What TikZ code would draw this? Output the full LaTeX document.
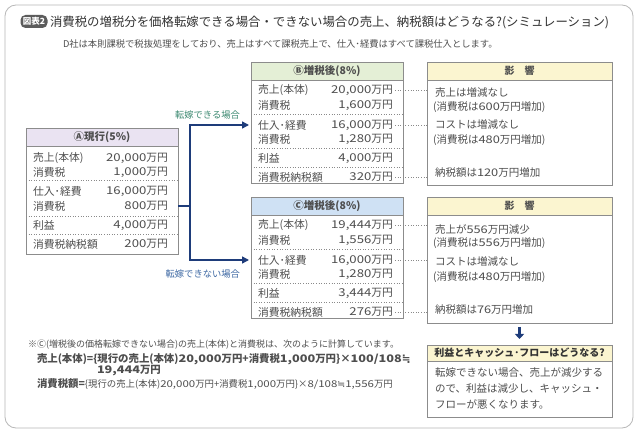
\documentclass[tikz,border=0pt]{standalone}
\usepackage{fontspec}
\setmainfont{Noto Sans CJK JP}
\newfontfamily\djv{DejaVu Sans}
\usetikzlibrary{arrows.meta}
\definecolor{txt}{HTML}{4E4E4E}
\definecolor{titletxt}{HTML}{333333}
\definecolor{boxgray}{HTML}{8C8C8C}
\definecolor{sepgray}{HTML}{8A8A8A}
\definecolor{framegray}{HTML}{B8B8B8}
\definecolor{hdA}{HTML}{EAE3F2}
\definecolor{hdB}{HTML}{E4EFD6}
\definecolor{hdC}{HTML}{CFE1F4}
\definecolor{hdY}{HTML}{FBF5D0}
\definecolor{navy}{HTML}{1E3C7A}
\definecolor{lblgreen}{HTML}{3E8A72}
\definecolor{lblblue}{HTML}{3D68A3}
\definecolor{badge}{HTML}{5C5C5C}
\newcommand\wdig[1]{\scalebox{1.22}[1]{#1}}
\newcommand\approxeq{{\djv ≒}}
\newcommand\trow[6]{%
  \node[lab] (#1l) at (#2,#4) {#5};
  \node[val] (#1v) at (#3,#4) {#6};}
\begin{document}
\begin{tikzpicture}[x=1pt,y=-1pt,
  every node/.style={inner sep=0pt,outer sep=0pt,text=txt},
  tbox/.style={draw=boxgray,line width=0.6pt,fill=white,anchor=north west},
  hbox/.style={draw=boxgray,line width=0.6pt,anchor=north west},
  hdtext/.style={font=\bfseries\fontsize{10.5}{12}\selectfont},
  lab/.style={anchor=west,font=\fontsize{10.8}{12}\selectfont},
  val/.style={anchor=east,font=\fontsize{10.8}{12}\selectfont},
  itext/.style={anchor=west,font=\fontsize{10.5}{12}\selectfont},
  sepline/.style={draw=sepgray,dotted,line width=0.6pt},
  conn/.style={draw=sepgray,dotted,line width=0.6pt},
  navyline/.style={draw=navy,line width=1.5pt},
  arr/.style={draw=navy,line width=1.5pt,-{Triangle[length=7pt,width=7pt]}},
  lbl/.style={anchor=east,font=\fontsize{9.3}{11}\selectfont},
  note/.style={anchor=west,font=\fontsize{9}{10}\selectfont},
  noteb/.style={anchor=west,font=\bfseries\fontsize{10.4}{12}\selectfont}]
\useasboundingbox (0,0) rectangle (640,435);
\fill[white] (0,0) rectangle (640,435);
\node[draw=framegray,line width=0.8pt,rounded corners=11pt,minimum width=628pt,minimum height=423pt,anchor=north west] (frame) at (5,5) {};
% title
\node[fill=badge,rounded corners=5pt,minimum width=27pt,minimum height=13pt,text=white,font=\bfseries\fontsize{8.5}{9}\selectfont] (badge) at (34,21.5) {図表2};
\node[anchor=west,text=titletxt,font=\fontsize{12.4}{14}\selectfont] (title) at (50,22) {消費税の増税分を価格転嫁できる場合・できない場合の売上、納税額はどうなる?(シミュレーション)};
\node[anchor=west,font=\fontsize{9.3}{11}\selectfont] (sub) at (63,44) {D社は本則課税で税抜処理をしており、売上はすべて課税売上で、仕入･経費はすべて課税仕入とします。};
% table A
\node[tbox,minimum width=152pt,minimum height=126pt] (A) at (26,128) {};
\node[hbox,fill=hdA,minimum width=152pt,minimum height=18pt] (Ah) at (26,128) {};
\node[hdtext] (At) at (Ah.center) {Ⓐ現行(5\%)};
\trow{A1}{33}{168}{158}{売上(本体)}{\wdig{20,000}万円}
\trow{A2}{33}{168}{172}{消費税}{\wdig{1,000}万円}
\trow{A3}{33}{168}{191}{仕入･経費}{\wdig{16,000}万円}
\trow{A4}{33}{168}{206}{消費税}{\wdig{800}万円}
\trow{A5}{33}{168}{225}{利益}{\wdig{4,000}万円}
\trow{A6}{33}{168}{244}{消費税納税額}{\wdig{200}万円}
\foreach \yy in {180,216,234} {\draw[sepline] (A.west |- 0,\yy) -- (A.east |- 0,\yy);}
% table B
\node[tbox,minimum width=152pt,minimum height=121pt] (B) at (251,62) {};
\node[hbox,fill=hdB,minimum width=152pt,minimum height=18pt] (Bh) at (251,62) {};
\node[hdtext] (Bt) at (Bh.center) {Ⓑ増税後(8\%)};
\trow{B1}{258}{393}{90}{売上(本体)}{\wdig{20,000}万円}
\trow{B2}{258}{393}{105}{消費税}{\wdig{1,600}万円}
\trow{B3}{258}{393}{125}{仕入･経費}{\wdig{16,000}万円}
\trow{B4}{258}{393}{139}{消費税}{\wdig{1,280}万円}
\trow{B5}{258}{393}{158}{利益}{\wdig{4,000}万円}
\trow{B6}{258}{393}{177}{消費税納税額}{\wdig{320}万円}
\foreach \yy in {114,148,167} {\draw[sepline] (B.west |- 0,\yy) -- (B.east |- 0,\yy);}
% table C
\node[tbox,minimum width=152pt,minimum height=121pt] (C) at (251,197) {};
\node[hbox,fill=hdC,minimum width=152pt,minimum height=18pt] (Ch) at (251,197) {};
\node[hdtext] (Ct) at (Ch.center) {Ⓒ増税後(8\%)};
\trow{C1}{258}{393}{225}{売上(本体)}{\wdig{19,444}万円}
\trow{C2}{258}{393}{240}{消費税}{\wdig{1,556}万円}
\trow{C3}{258}{393}{260}{仕入･経費}{\wdig{16,000}万円}
\trow{C4}{258}{393}{274}{消費税}{\wdig{1,280}万円}
\trow{C5}{258}{393}{293}{利益}{\wdig{3,444}万円}
\trow{C6}{258}{393}{312}{消費税納税額}{\wdig{276}万円}
\foreach \yy in {249,283,302} {\draw[sepline] (C.west |- 0,\yy) -- (C.east |- 0,\yy);}
% impact B
\node[tbox,minimum width=185pt,minimum height=123pt] (IB) at (427,62) {};
\node[hbox,fill=hdY,minimum width=185pt,minimum height=18pt] (IBh) at (427,62) {};
\node[hdtext,font=\bfseries\fontsize{10}{12}\selectfont] (IBt) at (IBh.center) {影　響};
\node[itext] (IB1) at (435,93) {売上は増減なし};
\node[itext] (IB2) at (433,107) {(消費税は\wdig{600}万円増加)};
\node[itext] (IB3) at (435,125) {コストは増減なし};
\node[itext] (IB4) at (433,140) {(消費税は\wdig{480}万円増加)};
\node[itext] (IB5) at (435,173) {納税額は\wdig{120}万円増加};
% impact C
\node[tbox,minimum width=185pt,minimum height=126pt] (IC) at (427,197) {};
\node[hbox,fill=hdY,minimum width=185pt,minimum height=18pt] (ICh) at (427,197) {};
\node[hdtext,font=\bfseries\fontsize{10}{12}\selectfont] (ICt) at (ICh.center) {影　響};
\node[itext] (IC1) at (435,229) {売上が\wdig{556}万円減少};
\node[itext] (IC2) at (433,243) {(消費税は\wdig{556}万円増加)};
\node[itext] (IC3) at (435,262) {コストは増減なし};
\node[itext] (IC4) at (433,277) {(消費税は\wdig{480}万円増加)};
\node[itext] (IC5) at (435,310) {納税額は\wdig{76}万円増加};
% dotted connectors
\foreach \r in {1,3,6} {
  \draw[conn] ([xshift=2pt]B\r v.east) -- (B\r v.east -| IB.west);
  \draw[conn] ([xshift=2pt]C\r v.east) -- (C\r v.east -| IC.west);
}
% main arrows
\coordinate (J) at (190,206);
\draw[navyline] (A.east |- J) -- (J);
\draw[arr,shorten >=2pt] (J) |- (B.west |- B3l);
\draw[arr,shorten >=2pt] (J) |- (C.west |- C3l);
\node[lbl,text=lblgreen] (L1) at (240,115) {転嫁できる場合};
\node[lbl,text=lblblue] (L2) at (240,274) {転嫁できない場合};
% bottom box
\node[tbox,minimum width=185pt,minimum height=72pt] (Q) at (427,345) {};
\node[hbox,fill=hdY,minimum width=185pt,minimum height=16pt] (Qh) at (427,345) {};
\node[hdtext,font=\bfseries\fontsize{10}{12}\selectfont,text=titletxt] (Qt) at (Qh.center) {利益とキャッシュ･フローはどうなる?};
\node[itext] (Q1) at (435,373) {転嫁できない場合、売上が減少する};
\node[itext] (Q2) at (435,389) {ので、利益は減少し、キャッシュ・};
\node[itext] (Q3) at (435,404) {フローが悪くなります。};
\draw[navy,line width=3pt,-{Triangle[length=5pt,width=9pt]},shorten <=4pt,shorten >=6pt] (IC.south) -- (Q.north);
% footnote
\node[note] (N1) at (28,345) {※Ⓒ(増税後の価格転嫁できない場合)の売上(本体)と消費税は、次のように計算しています。};
\node[noteb] (N2) at (37,359) {売上(本体)=\{現行の売上(本体)\wdig{20,000}万円+消費税\wdig{1,000}万円\}×\wdig{100/108}\approxeq};
\node[noteb] (N3) at (97,371) {\wdig{19,444}万円};
\node[noteb] (N4a) at (37,384) {消費税額=};
\node[note,font=\fontsize{9.4}{10}\selectfont] (N4b) at (N4a.east) {\{現行の売上(本体)\wdig{20,000}万円+消費税\wdig{1,000}万円\}×\wdig{8/108}\approxeq\wdig{1,556}万円};
\end{tikzpicture}
\end{document}
